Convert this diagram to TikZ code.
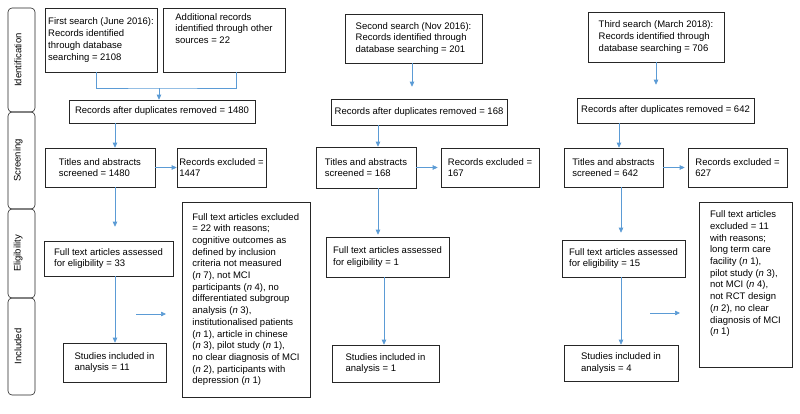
\documentclass[tikz,border=0pt]{standalone}
\usepackage{fontspec}
\setmainfont{Liberation Sans}
\usetikzlibrary{arrows.meta}
\definecolor{flowblue}{HTML}{5B9BD5}
\tikzset{
	box/.style={draw=black!85, line width=0.6pt, inner sep=0pt, align=left, font=\fontsize{9.5}{11.7}\selectfont},
	tab/.style={draw=black!85, line width=0.6pt, rounded corners=4pt, minimum height=27pt, inner sep=0pt, font=\fontsize{9.5}{11.7}\selectfont},
	arr/.style={draw=flowblue, line width=0.6pt, -{Triangle[length=5pt,width=4.5pt]}},
	ln/.style={draw=flowblue, line width=0.6pt}
}
\newcommand{\boxat}[5]{\node[box, minimum width=#3pt, minimum height=#4pt] (#1) at (#2) {#5};}
\begin{document}
\begin{tikzpicture}[x=1pt,y=-1pt]
		\useasboundingbox (0,0) rectangle (800,413);
		\foreach \name/\yc/\ht/\txt in {id/60/104/Identification, sc/160.5/97/Screening, el/253.5/89/Eligibility, in/346.5/97/Included}
			\node[tab, minimum width=\ht pt, rotate=90] (tab\name) at (21.5,\yc) {\txt};
		\begin{scope}
			\boxat{sa1}{101,40}{112}{64}{First search (June 2016):\\Records identified\\through database\\searching = 2108}
			\boxat{sb1}{224,40}{122}{64}{Additional records\\identified through other\\sources = 22\\[11.7pt]}
			\boxat{dup1}{162,111.5}{186}{23}{Records after duplicates removed = 1480}
			\boxat{scr1}{100,167.5}{110}{39}{Titles and abstracts\\screened = 1480}
			\boxat{exc1}{221.5,167.5}{89}{39}{Records excluded =\\1447}
			\boxat{ful1}{108.5,258.5}{129}{35}{Full text articles assessed\\for eligibility = 33}
			\boxat{inc1}{114.5,362.5}{103}{39}{Studies included in\\analysis = 11}
			\boxat{rsn1}{246,299.5}{128}{195}{Full text articles excluded\\= 22 with reasons;\\cognitive outcomes as\\defined by inclusion\\criteria not measured\\(\textit{n} 7), not MCI\\participants (\textit{n} 4), no\\differentiated subgroup\\analysis (\textit{n} 3),\\institutionalised patients\\(\textit{n} 1), article in chinese\\(\textit{n} 3), pilot study (\textit{n} 1),\\no clear diagnosis of MCI\\(\textit{n} 2), participants with\\depression (\textit{n} 1)}
			\coordinate (x1) at (115,0);
			\coordinate (j1) at (159,88);
			\draw[ln] ([xshift=-5pt]sa1.south) |- (j1) -| ([xshift=12pt]sb1.south);
			\draw[arr] (j1) -- (j1 |- dup1.north);
			\draw[arr] (dup1.south -| x1) -- (scr1.north -| x1);
			\draw[arr, shorten >=14pt] (scr1.south -| x1) -- (ful1.north -| x1);
			\draw[arr] (ful1.south -| x1) -- (inc1.north -| x1);
			\draw[arr] (scr1.east) -- (exc1.west |- scr1.east);
			\coordinate (f1a) at (136,314);
			\coordinate (f1b) at (166,314);
			\draw[arr] (f1a) -- (f1b);
		\end{scope}
		\begin{scope}
			\boxat{sa2}{413.5,38.5}{137}{49}{Second search (Nov 2016):\\Records identified through\\database searching = 201}
			\boxat{dup2}{419,112}{176}{26}{Records after duplicates removed = 168}
			\boxat{scr2}{366,167.5}{100}{41}{Titles and abstracts\\screened = 168}
			\boxat{exc2}{490,167.5}{98}{39}{Records excluded =\\167}
			\boxat{ful2}{387.5,257}{123}{40}{Full text articles assessed\\for eligibility = 1}
			\boxat{inc2}{385.5,363.5}{107}{37}{Studies included in\\analysis = 1}
			\coordinate (x2) at (378,0);
			\coordinate (x2b) at (384,0);
			\draw[arr, shorten >=12pt] ([xshift=-1.5pt]sa2.south) -- ([xshift=-1.5pt]sa2.south |- dup2.north);
			\draw[arr] (dup2.south -| x2) -- (scr2.north -| x2);
			\draw[arr, shorten >=2pt] (scr2.south -| x2) -- (ful2.north -| x2);
			\draw[arr] (ful2.south -| x2b) -- (inc2.north -| x2b);
			\draw[arr, shorten >=3pt] (scr2.east) -- (exc2.west |- scr2.east);
		\end{scope}
		\begin{scope}
			\boxat{sa3}{656,37}{136}{50}{Third search (March 2018):\\Records identified through\\database searching = 706}
			\boxat{dup3}{665.5,110.5}{177}{25}{Records after duplicates removed = 642}
			\boxat{scr3}{613.5,167.5}{99}{39}{Titles and abstracts\\screened = 642}
			\boxat{exc3}{737.5,167.5}{99}{39}{Records excluded =\\627}
			\boxat{ful3}{623.5,258.5}{123}{37}{Full text articles assessed\\for eligibility = 15}
			\boxat{inc3}{621,363}{114}{36}{Studies included in\\analysis = 4}
			\boxat{rsn3}{745.5,284.5}{93}{165}{Full text articles\\excluded = 11\\with reasons;\\long term care\\facility (\textit{n} 1),\\pilot study (\textit{n} 3),\\not MCI (\textit{n} 4),\\not RCT design\\(\textit{n} 2), no clear\\diagnosis of MCI\\(\textit{n} 1)\\[11.7pt]}
			\coordinate (x3) at (619,0);
			\coordinate (x3b) at (621,0);
			\draw[arr, shorten >=13pt] (sa3.south) -- (sa3.south |- dup3.north);
			\draw[arr] (dup3.south -| x3) -- (scr3.north -| x3);
			\draw[arr, shorten >=7pt] (scr3.south -| x3b) -- (ful3.north -| x3b);
			\draw[arr] (ful3.south -| x3b) -- (inc3.north -| x3b);
			\draw[arr, shorten >=3pt] (scr3.east) -- (exc3.west |- scr3.east);
			\coordinate (f3a) at (650,313);
			\coordinate (f3b) at (680,313);
			\draw[arr] (f3a) -- (f3b);
		\end{scope}
	\end{tikzpicture}
\end{document}
